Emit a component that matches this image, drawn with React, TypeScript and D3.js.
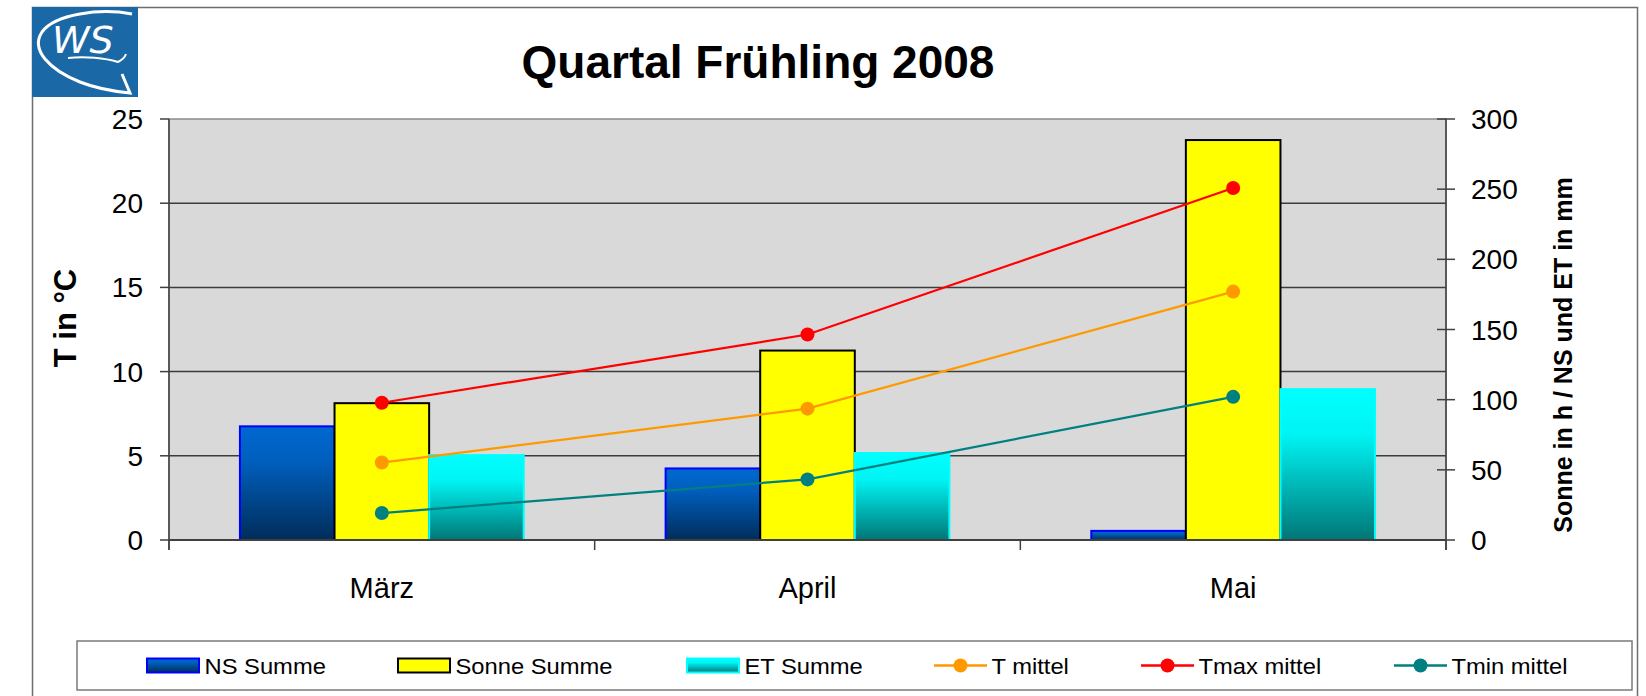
import React, { useEffect, useRef } from "react";
import * as d3 from "d3";

const categories = ["März", "April", "Mai"];
const nsSumme = [81, 51, 6.5];
const sonneSumme = [97.5, 135, 285];
const etSumme = [60.5, 62, 107.5];
const tMittel = [4.6, 7.8, 14.75];
const tmaxMittel = [8.15, 12.2, 20.9];
const tminMittel = [1.6, 3.6, 8.5];
const leftTicks = [0, 5, 10, 15, 20, 25];
const rightTicks = [0, 50, 100, 150, 200, 250, 300];

const FONT = "'Liberation Sans', Arial, sans-serif";

const App = () => {
  const ref = useRef<SVGSVGElement>(null);

  useEffect(() => {
    const svg = d3.select(ref.current);
    svg.selectAll("*").remove();

    const left = 169,
      right = 1446,
      top = 119,
      bottom = 540;

    const x = d3.scaleBand().domain(categories).range([left, right]).padding(0);
    const sub = d3
      .scaleBand()
      .domain(["ns", "sonne", "et"])
      .range([0, x.bandwidth()])
      .paddingInner(0)
      .paddingOuter(0.75);
    const yT = d3.scaleLinear().domain([0, 25]).range([bottom, top]);
    const yR = d3.scaleLinear().domain([0, 300]).range([bottom, top]);

    // gradients
    const defs = svg.append("defs");
    const grad = (id, stops) => {
      const g = defs
        .append("linearGradient")
        .attr("id", id)
        .attr("x1", 0)
        .attr("y1", 0)
        .attr("x2", 0)
        .attr("y2", 1);
      stops.forEach(([o, c]) => g.append("stop").attr("offset", o).attr("stop-color", c));
    };
    grad("gNS", [[0, "#0068d0"], [0.3, "#005fbe"], [1, "#002d5a"]]);
    grad("gET", [[0, "#00ffff"], [0.3, "#00f4f4"], [1, "#007676"]]);

    // frame + logo
    svg
      .append("rect")
      .attr("x", 32.5)
      .attr("y", 7.5)
      .attr("width", 1605)
      .attr("height", 720)
      .attr("fill", "white")
      .attr("stroke", "#6e6e6e")
      .attr("stroke-width", 1.5);

    const logo = svg.append("g");
    logo
      .append("rect")
      .attr("x", 32)
      .attr("y", 7)
      .attr("width", 106)
      .attr("height", 90)
      .attr("fill", "#1b68a7");
    logo
      .append("path")
      .attr("d", "M132,14 C100,8 55,14 42,32 C30,50 50,70 80,82 C100,90 120,92 130,93 L122,74")
      .attr("fill", "none")
      .attr("stroke", "white")
      .attr("stroke-width", 3);
    logo
      .append("path")
      .attr("d", "M68,58 C85,56 105,58 118,62 C122,60 125,57 126,54")
      .attr("fill", "none")
      .attr("stroke", "white")
      .attr("stroke-width", 2);
    logo
      .append("text")
      .attr("x", 52)
      .attr("y", 53)
      .attr("font-family", "'DejaVu Sans', sans-serif")
      .attr("font-style", "italic")
      .attr("font-size", 38)
      .attr("fill", "white")
      .text("WS");

    // title
    svg
      .append("text")
      .attr("x", 758)
      .attr("y", 78)
      .attr("text-anchor", "middle")
      .attr("font-family", FONT)
      .attr("font-weight", "bold")
      .attr("font-size", 46)
      .text("Quartal Frühling 2008");

    // plot area
    svg
      .append("rect")
      .attr("x", left)
      .attr("y", top)
      .attr("width", right - left)
      .attr("height", bottom - top)
      .attr("fill", "#d9d9d9")
      .attr("stroke", "#8a8a8a")
      .attr("stroke-width", 1.5);

    svg
      .append("g")
      .selectAll("line")
      .data(leftTicks.filter((d) => d > 0 && d < 25))
      .join("line")
      .attr("x1", left)
      .attr("x2", right)
      .attr("y1", (d) => yT(d))
      .attr("y2", (d) => yT(d))
      .attr("stroke", "#3c3c3c")
      .attr("stroke-width", 1.5);

    // bars
    const series = [
      { key: "ns", values: nsSumme, fill: "url(#gNS)", stroke: "#0000ff" },
      { key: "sonne", values: sonneSumme, fill: "#ffff00", stroke: "#000000" },
      { key: "et", values: etSumme, fill: "url(#gET)", stroke: "#00ffff" },
    ];
    series.forEach((s) => {
      svg
        .append("g")
        .selectAll("rect")
        .data(s.values)
        .join("rect")
        .attr("x", (d, i) => x(categories[i]) + sub(s.key))
        .attr("y", (d) => yR(d))
        .attr("width", sub.bandwidth())
        .attr("height", (d) => bottom - yR(d))
        .attr("fill", s.fill)
        .attr("stroke", s.stroke)
        .attr("stroke-width", 2);
    });

    // axes
    const axisColor = "#404040";
    svg
      .append("line")
      .attr("x1", left)
      .attr("x2", left)
      .attr("y1", top)
      .attr("y2", 550)
      .attr("stroke", axisColor)
      .attr("stroke-width", 1.5);
    svg
      .append("line")
      .attr("x1", right)
      .attr("x2", right)
      .attr("y1", top)
      .attr("y2", 550)
      .attr("stroke", axisColor)
      .attr("stroke-width", 1.5);
    svg
      .append("line")
      .attr("x1", left)
      .attr("x2", right)
      .attr("y1", bottom)
      .attr("y2", bottom)
      .attr("stroke", axisColor)
      .attr("stroke-width", 2);

    const catTicks = categories.map((c) => x(c)).concat([right]);
    svg
      .append("g")
      .selectAll("line")
      .data(catTicks)
      .join("line")
      .attr("x1", (d) => d)
      .attr("x2", (d) => d)
      .attr("y1", bottom)
      .attr("y2", 550)
      .attr("stroke", axisColor)
      .attr("stroke-width", 1.5);

    const gl = svg.append("g");
    gl.selectAll("line")
      .data(leftTicks)
      .join("line")
      .attr("x1", 160)
      .attr("x2", left)
      .attr("y1", (d) => yT(d))
      .attr("y2", (d) => yT(d))
      .attr("stroke", axisColor)
      .attr("stroke-width", 1.5);
    gl.selectAll("text")
      .data(leftTicks)
      .join("text")
      .attr("x", 143)
      .attr("y", (d) => yT(d) + 10)
      .attr("text-anchor", "end")
      .attr("font-family", FONT)
      .attr("font-size", 28)
      .text((d) => d);

    const gr = svg.append("g");
    gr.selectAll("line")
      .data(rightTicks)
      .join("line")
      .attr("x1", right - 9)
      .attr("x2", right + 9)
      .attr("y1", (d) => yR(d))
      .attr("y2", (d) => yR(d))
      .attr("stroke", axisColor)
      .attr("stroke-width", 1.5);
    gr.selectAll("text")
      .data(rightTicks)
      .join("text")
      .attr("x", 1471)
      .attr("y", (d) => yR(d) + 10)
      .attr("font-family", FONT)
      .attr("font-size", 28)
      .text((d) => d);

    svg
      .append("g")
      .selectAll("text")
      .data(categories)
      .join("text")
      .attr("x", (d) => x(d) + x.bandwidth() / 2)
      .attr("y", 598)
      .attr("text-anchor", "middle")
      .attr("font-family", FONT)
      .attr("font-size", 29)
      .text((d) => d);

    svg
      .append("text")
      .attr("transform", "translate(76,318) rotate(-90)")
      .attr("text-anchor", "middle")
      .attr("font-family", FONT)
      .attr("font-weight", "bold")
      .attr("font-size", 31)
      .text("T in °C");
    svg
      .append("text")
      .attr("transform", "translate(1572,355) rotate(-90)")
      .attr("text-anchor", "middle")
      .attr("font-family", FONT)
      .attr("font-weight", "bold")
      .attr("font-size", 25)
      .text("Sonne in h / NS und ET in mm");

    // lines
    const lines = [
      { values: tMittel, color: "#ff9900" },
      { values: tmaxMittel, color: "#ff0000" },
      { values: tminMittel, color: "#008080" },
    ];
    const cx = (i) => x(categories[i]) + x.bandwidth() / 2;
    const lineGen = d3
      .line<number>()
      .x((d, i) => cx(i))
      .y((d) => yT(d));
    lines.forEach((l) => {
      svg
        .append("path")
        .attr("d", lineGen(l.values))
        .attr("fill", "none")
        .attr("stroke", l.color)
        .attr("stroke-width", 2.2);
      svg
        .append("g")
        .selectAll("circle")
        .data(l.values)
        .join("circle")
        .attr("cx", (d, i) => cx(i))
        .attr("cy", (d) => yT(d))
        .attr("r", 7)
        .attr("fill", l.color);
    });

    // legend
    svg
      .append("rect")
      .attr("x", 77)
      .attr("y", 641)
      .attr("width", 1555)
      .attr("height", 49)
      .attr("fill", "white")
      .attr("stroke", "#7a7a7a")
      .attr("stroke-width", 1.5);

    const legendItems = [
      { label: "NS Summe", kind: "bar", fill: "url(#gNS)", stroke: "#0000ff", x: 147 },
      { label: "Sonne Summe", kind: "bar", fill: "#ffff00", stroke: "#000000", x: 398 },
      { label: "ET Summe", kind: "bar", fill: "url(#gET)", stroke: "#00ffff", x: 687 },
      { label: "T mittel", kind: "line", color: "#ff9900", x: 934 },
      { label: "Tmax mittel", kind: "line", color: "#ff0000", x: 1141 },
      { label: "Tmin mittel", kind: "line", color: "#008080", x: 1394 },
    ];
    const ly = 665.5;
    legendItems.forEach((it) => {
      const g = svg.append("g");
      if (it.kind === "bar") {
        g.append("rect")
          .attr("x", it.x)
          .attr("y", ly - 7)
          .attr("width", 52)
          .attr("height", 14)
          .attr("fill", it.fill)
          .attr("stroke", it.stroke)
          .attr("stroke-width", 2);
      } else {
        g.append("line")
          .attr("x1", it.x)
          .attr("x2", it.x + 53)
          .attr("y1", ly)
          .attr("y2", ly)
          .attr("stroke", it.color)
          .attr("stroke-width", 2.5);
        g.append("circle")
          .attr("cx", it.x + 26.5)
          .attr("cy", ly)
          .attr("r", 7)
          .attr("fill", it.color);
      }
      g.append("text")
        .attr("transform", `translate(${it.x + 57.5},${ly + 8}) scale(1.08,1)`)
        .attr("font-family", FONT)
        .attr("font-size", 22)
        .text(it.label);
    });
  }, []);

  return (
    <svg
      ref={ref}
      width={1646}
      height={696}
      style={{ position: "absolute", left: 0, top: 0, background: "white" }}
    ></svg>
  );
};

export default App;
